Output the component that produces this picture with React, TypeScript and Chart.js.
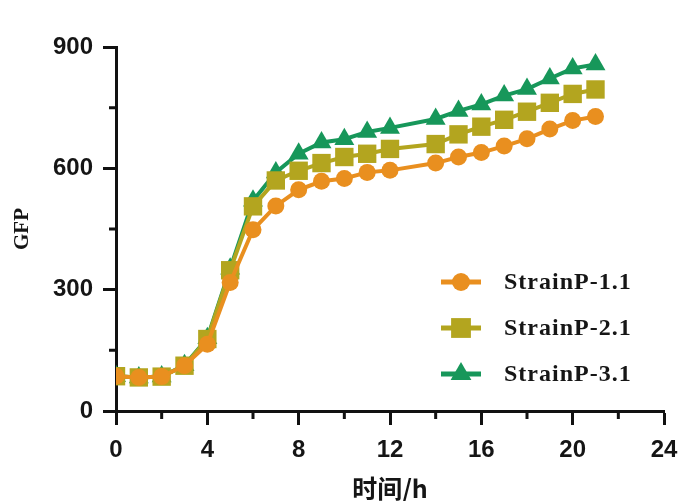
import React, { useEffect, useRef } from "react";
import { Chart, registerables } from "chart.js";

Chart.register(...registerables);

// Sampling times (h)
const hours = [0, 1, 2, 3, 4, 5, 6, 7, 8, 9, 10, 11, 12, 14, 15, 16, 17, 18, 19, 20, 21];

// GFP readings per strain
const strainP11 = [86, 83, 85, 112, 165, 318, 448, 507, 547, 568, 575, 590, 595, 613, 628, 639, 655, 673, 697, 718, 728];
const strainP21 = [86, 83, 85, 112, 178, 348, 506, 570, 594, 613, 628, 636, 648, 660, 684, 703, 720, 740, 762, 784, 795];
const strainP31 = [86, 83, 85, 113, 180, 352, 520, 590, 636, 664, 672, 690, 700, 722, 742, 758, 780, 796, 822, 847, 857];

const seriesNames = ["StrainP-1.1", "StrainP-2.1", "StrainP-3.1"];

// Axis ticks
const xTickValues = [0, 4, 8, 12, 16, 20, 24];
const xMinorValues = [2, 6, 10, 14, 18, 22];
const yTickValues = [0, 300, 600, 900];
const yMinorValues = [150, 450, 750];

const ORANGE = "#E98F1F";
const OLIVE = "#B3A51F";
const GREEN = "#17975A";
const AXIS = "#111111";

const tickFont = { family: "'Liberation Sans', Arial, sans-serif", size: 24, weight: "bold" as const };

// Short minor tick marks between the labelled ones
const minorTicksPlugin = {
  id: "minorTicks",
  afterDraw(chart: any) {
    const { ctx, chartArea, scales } = chart;
    ctx.save();
    ctx.strokeStyle = AXIS;
    ctx.lineWidth = 3;
    ctx.beginPath();
    xMinorValues.forEach((v) => {
      const px = scales.x.getPixelForValue(v);
      ctx.moveTo(px, chartArea.bottom);
      ctx.lineTo(px, chartArea.bottom + 8);
    });
    yMinorValues.forEach((v) => {
      const py = scales.y.getPixelForValue(v);
      ctx.moveTo(chartArea.left, py);
      ctx.lineTo(chartArea.left - 7, py);
    });
    ctx.stroke();
    ctx.restore();
  },
};

function drawMarker(ctx: CanvasRenderingContext2D, style: string, x: number, y: number, r: number) {
  ctx.beginPath();
  if (style === "circle") {
    ctx.arc(x, y, r, 0, Math.PI * 2);
  } else if (style === "rect") {
    const s = r * Math.SQRT1_2;
    ctx.rect(x - s, y - s, 2 * s, 2 * s);
  } else {
    ctx.moveTo(x, y - r);
    ctx.lineTo(x + r * Math.sin((2 * Math.PI) / 3), y + r / 2);
    ctx.lineTo(x - r * Math.sin((2 * Math.PI) / 3), y + r / 2);
    ctx.closePath();
  }
  ctx.fill();
}

// Legend inside the plot: line segment with marker, then the label
const insideLegendPlugin = {
  id: "insideLegend",
  afterDraw(chart: any) {
    const { ctx } = chart;
    const rows = [282, 328, 374];
    const lineX0 = 441;
    const lineX1 = 481;
    const textX = 504;
    ctx.save();
    chart.data.datasets.forEach((ds: any, i: number) => {
      const y = rows[i];
      ctx.strokeStyle = ds.borderColor;
      ctx.fillStyle = ds.backgroundColor;
      ctx.lineWidth = 5;
      ctx.beginPath();
      ctx.moveTo(lineX0, y);
      ctx.lineTo(lineX1, y);
      ctx.stroke();
      drawMarker(ctx, ds.pointStyle, (lineX0 + lineX1) / 2, y, ds.pointStyle === "circle" ? 9 : ds.pointStyle === "rect" ? 14 : 12);
      ctx.fillStyle = "#161616";
      ctx.font = "bold 24px 'Liberation Serif', 'Times New Roman', serif";
      (ctx as any).letterSpacing = "1px";
      ctx.textAlign = "left";
      ctx.textBaseline = "middle";
      ctx.fillText(ds.label, textX, y + 1);
    });
    ctx.restore();
  },
};

export default function App() {
  const canvasRef = useRef<HTMLCanvasElement | null>(null);

  useEffect(() => {
    document.body.style.margin = "0";
    const canvas = canvasRef.current;
    if (!canvas) return;

    const makeSet = (label: string, values: number[], color: string, style: string, radius: number) => ({
      label,
      data: hours.map((h, i) => ({ x: h, y: values[i] })),
      borderColor: color,
      backgroundColor: color,
      borderWidth: 4,
      pointStyle: style,
      pointRadius: radius,
      pointHoverRadius: radius,
      pointBorderWidth: 0,
      tension: 0,
    });

    const chart = new Chart(canvas, {
      type: "line",
      data: {
        datasets: [
          makeSet(seriesNames[0], strainP11, ORANGE, "circle", 8.5),
          makeSet(seriesNames[1], strainP21, OLIVE, "rect", 13),
          makeSet(seriesNames[2], strainP31, GREEN, "triangle", 11.5),
        ],
      },
      options: {
        animation: false,
        responsive: false,
        events: [],
        layout: { padding: { left: 0, right: 21, top: 47, bottom: 0 } },
        plugins: {
          legend: { display: false },
          tooltip: { enabled: false },
        },
        scales: {
          x: {
            type: "linear",
            min: 0,
            max: 24,
            afterFit: (scale: any) => {
              scale.height = 90;
              scale.paddingLeft = 0;
              scale.paddingRight = 0;
            },
            afterBuildTicks: (scale: any) => {
              scale.ticks = xTickValues.map((v) => ({ value: v }));
            },
            border: { display: true, color: AXIS, width: 3 },
            grid: {
              display: true,
              drawOnChartArea: false,
              drawTicks: true,
              tickLength: 14,
              tickWidth: 3,
              tickColor: AXIS,
            },
            ticks: {
              color: "#151515",
              font: tickFont,
              padding: 11,
              maxRotation: 0,
            },
            title: {
              display: true,
              text: "时间/h",
              color: "#151515",
              font: { family: "'Noto Sans CJK SC', sans-serif", size: 25, weight: "bold", lineHeight: 1 },
              padding: { top: 0, bottom: 0 },
            },
          },
          y: {
            type: "linear",
            min: 0,
            max: 900,
            afterFit: (scale: any) => {
              scale.width = 116;
            },
            afterBuildTicks: (scale: any) => {
              scale.ticks = yTickValues.map((v) => ({ value: v }));
            },
            border: { display: true, color: AXIS, width: 3 },
            grid: {
              display: true,
              drawOnChartArea: false,
              drawTicks: true,
              tickLength: 13,
              tickWidth: 3,
              tickColor: AXIS,
            },
            ticks: {
              color: "#151515",
              font: tickFont,
              padding: 10,
            },
            title: {
              display: true,
              text: "GFP",
              color: "#151515",
              font: { family: "'Liberation Serif', 'Times New Roman', serif", size: 21, weight: "bold", lineHeight: 1 },
              padding: { top: 12, bottom: 0 },
            },
          },
        },
      },
      plugins: [minorTicksPlugin, insideLegendPlugin],
    } as any);

    return () => chart.destroy();
  }, []);

  return (
    <div style={{ width: 685, height: 501, background: "#ffffff" }}>
      <canvas ref={canvasRef} width={685} height={501} style={{ display: "block" }} />
    </div>
  );
}
